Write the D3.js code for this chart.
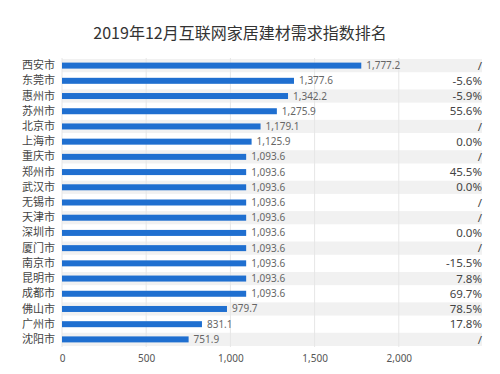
<!DOCTYPE html>
<html>
<head>
<meta charset="utf-8">
<script src="https://cdn.jsdelivr.net/npm/d3@7"></script>
<style>
  body { margin: 0; background: #fff; }
  text { font-family: "Noto Sans CJK SC", "Noto Sans", sans-serif; }
</style>
</head>
<body>
<div id="chart"></div>
<script>
const cities = ["西安市", "东莞市", "惠州市", "苏州市", "北京市", "上海市", "重庆市", "郑州市", "武汉市", "无锡市",
  "天津市", "深圳市", "厦门市", "南京市", "昆明市", "成都市", "佛山市", "广州市", "沈阳市"]
const values = [1777.2, 1377.6, 1342.2, 1275.9, 1179.1, 1125.9, 1093.6, 1093.6, 1093.6, 1093.6,
  1093.6, 1093.6, 1093.6, 1093.6, 1093.6, 1093.6, 979.7, 831.1, 751.9]
const changes = ["/", "-5.6%", "-5.9%", "55.6%", "/", "0.0%", "/", "45.5%", "0.0%", "/",
  "/", "0.0%", "/", "-15.5%", "7.8%", "69.7%", "78.5%", "17.8%", "/"]
const xTicks = [0, 500, 1000, 1500, 2000]

const svgWidth = 500
const svgHeight = 374
let margin = { top: 58, right: 15, bottom: 27, left: 62 }
let width = svgWidth - margin.left - margin.right
let height = svgHeight - margin.top - margin.bottom

let svg = d3.select("#chart").append("svg")
  .attr("width", svgWidth)
  .attr("height", svgHeight)

svg.append("text")
  .attr("x", 240)
  .attr("y", 39)
  .attr("text-anchor", "middle")
  .style("font-size", "16px")
  .style("fill", "#333")
  .text("2019年12月互联网家居建材需求指数排名")

let chartGroup = svg.append("g")
  .attr("transform", `translate(${margin.left}, ${margin.top})`)

let x = d3.scaleLinear().domain([0, 2500]).range([0, 421])
let y = d3.scaleBand().domain(cities).range([0, 289]).paddingInner(0).paddingOuter(0)

// striped rows
chartGroup.selectAll(".stripe")
  .data(cities.filter((d, i) => i % 2 === 0))
  .enter()
  .append("rect")
  .attr("x", 0)
  .attr("y", d => y(d) + 1)
  .attr("width", x(2500) - 1)
  .attr("height", y.bandwidth() - 2)
  .attr("fill", "#f1f1f1")

// grid
chartGroup.selectAll(".grid")
  .data(xTicks)
  .enter()
  .append("line")
  .attr("x1", d => x(d))
  .attr("x2", d => x(d))
  .attr("y1", 0)
  .attr("y2", 289)
  .attr("stroke", "#e6e6e6")
  .attr("stroke-width", 1)

// x axis labels
let bottomAxis = d3.axisBottom(x).tickValues(xTicks).tickSize(0).tickPadding(8)
let xAxis = chartGroup.append("g")
  .attr("transform", `translate(0, 289)`)
  .call(bottomAxis)
xAxis.select(".domain").remove()
xAxis.selectAll("text").style("font-size", "10px").style("fill", "#555")
  .style("font-family", "'Noto Sans', sans-serif")

// category labels
let leftAxis = d3.axisLeft(y).tickSize(0).tickPadding(7)
let yAxis = chartGroup.append("g").call(leftAxis)
yAxis.select(".domain").remove()
yAxis.selectAll("text").style("font-size", "11px").style("fill", "#444")

const data = cities.map((c, i) => ({ city: c, value: values[i], change: changes[i] }))

chartGroup.selectAll(".bar")
  .data(data)
  .enter()
  .append("rect")
  .attr("x", x(0))
  .attr("y", d => y(d.city) + y.bandwidth() / 2 - 3)
  .attr("width", d => x(d.value))
  .attr("height", 6)
  .attr("fill", "#1f6fd0")

chartGroup.selectAll(".val")
  .data(data)
  .enter()
  .append("text")
  .attr("x", d => x(d.value) + 5)
  .attr("y", d => y(d.city) + y.bandwidth() / 2)
  .attr("dy", "0.35em")
  .style("font-size", "10px")
  .style("fill", "#666")
  .style("font-family", "'Noto Sans', sans-serif")
  .text(d => d3.format(",.1f")(d.value))

chartGroup.selectAll(".chg")
  .data(data)
  .enter()
  .append("text")
  .attr("x", x(2500) - 1)
  .attr("y", d => y(d.city) + y.bandwidth() / 2)
  .attr("dy", "0.36em")
  .attr("text-anchor", "end")
  .style("font-size", "11.5px")
  .style("fill", "#444")
  .style("font-family", "'Noto Sans', sans-serif")
  .text(d => d.change)
</script>
</body>
</html>
